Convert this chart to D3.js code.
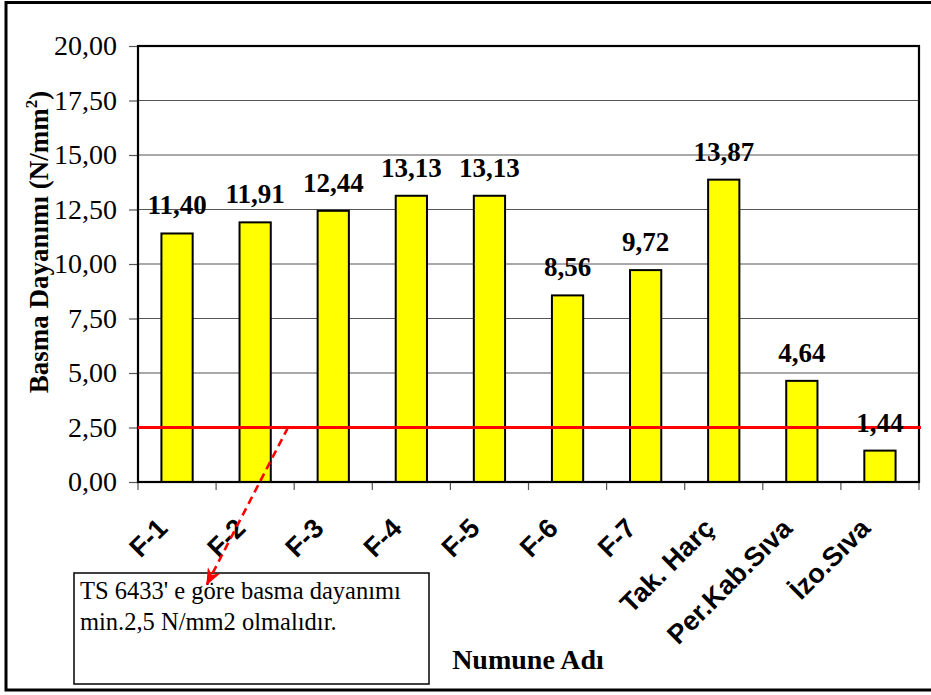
<!DOCTYPE html>
<html>
<head>
<meta charset="utf-8">
<script src="https://cdn.jsdelivr.net/npm/d3@7"></script>
<style>
  html, body { margin: 0; padding: 0; background: #fff; }
  svg { display: block; }
</style>
</head>
<body>
<svg id="chart" width="931" height="695"></svg>
<script>
// Compressive strength of mortar / plaster samples (N/mm²)
const categories = ["F-1", "F-2", "F-3", "F-4", "F-5", "F-6", "F-7", "Tak. Harç", "Per.Kab.Sıva", "İzo.Sıva"];
const values = [11.40, 11.91, 12.44, 13.13, 13.13, 8.56, 9.72, 13.87, 4.64, 1.44];
const yTicks = [0, 2.5, 5, 7.5, 10, 12.5, 15, 17.5, 20];
const limitValue = 2.5;
const noteLines = ["TS 6433' e göre basma dayanımı", "min.2,5 N/mm2 olmalıdır."];

const SERIF = "Liberation Serif";
const SANS = "Liberation Sans";
const margin = { left: 138, top: 46, right: 919, bottom: 482 };

const trLocale = d3.formatLocale({ decimal: ",", thousands: ".", grouping: [3], currency: ["", " TL"] });
const fmt = trLocale.format(".2f");

const svg = d3.select("#chart");

// outer frame (right edge runs off the page)
svg.append("rect")
  .attr("x", 6).attr("y", 2.5).attr("width", 940).attr("height", 687.5)
  .attr("fill", "none").attr("stroke", "#000").attr("stroke-width", 3);

const x = d3.scaleBand().domain(categories).range([margin.left, margin.right]).paddingInner(0.6).paddingOuter(0.3);
const xBand = d3.scaleBand().domain(categories).range([margin.left, margin.right]).padding(0);
const y = d3.scaleLinear().domain([0, 20]).range([margin.bottom, margin.top]);

// horizontal gridlines
svg.append("g").selectAll("line").data(yTicks.filter(d => d > 0)).join("line")
  .attr("x1", margin.left).attr("x2", margin.right)
  .attr("y1", d => y(d)).attr("y2", d => y(d))
  .attr("stroke", "#555").attr("stroke-width", 1.2);

// y axis
const yAxis = d3.axisLeft(y).tickValues(yTicks).tickFormat(fmt).tickSize(9).tickPadding(12);
const gy = svg.append("g").attr("transform", `translate(${margin.left},0)`).call(yAxis);
gy.attr("font-family", SERIF).attr("font-size", 28);
gy.select(".domain").remove();
gy.selectAll(".tick line").attr("stroke", "#555").attr("stroke-width", 1.2);
gy.selectAll(".tick text").attr("fill", "#000");

// x axis ticks at band boundaries
const gx = svg.append("g").attr("transform", `translate(0,${margin.bottom})`);
gx.selectAll("line").data(categories.map(c => xBand(c)).concat([margin.right])).join("line")
  .attr("x1", d => d).attr("x2", d => d).attr("y1", 0).attr("y2", 8)
  .attr("stroke", "#555").attr("stroke-width", 1.2);

// category labels, rotated
svg.append("g").selectAll("text").data(categories).join("text")
  .attr("transform", d => `translate(${xBand(d) + xBand.bandwidth() / 2 - 8},${margin.bottom + 48}) rotate(-45)`)
  .attr("text-anchor", "end")
  .attr("font-family", SANS)
  .attr("font-weight", "bold").attr("font-size", 27)
  .text(d => d);

// bars
svg.append("g").selectAll("rect").data(values).join("rect")
  .attr("x", (d, i) => x(categories[i]))
  .attr("y", d => y(d))
  .attr("width", x.bandwidth())
  .attr("height", d => y(0) - y(d))
  .attr("fill", "#ffff00").attr("stroke", "#000").attr("stroke-width", 2);

// plot area border
svg.append("rect")
  .attr("x", margin.left).attr("y", margin.top)
  .attr("width", margin.right - margin.left).attr("height", margin.bottom - margin.top)
  .attr("fill", "none").attr("stroke", "#000").attr("stroke-width", 2.2);

// minimum requirement line
svg.append("line")
  .attr("x1", margin.left).attr("x2", margin.right + 2)
  .attr("y1", y(limitValue)).attr("y2", y(limitValue))
  .attr("stroke", "#ff0000").attr("stroke-width", 3);

// value labels
svg.append("g").selectAll("text").data(values).join("text")
  .attr("x", (d, i) => x(categories[i]) + x.bandwidth() / 2)
  .attr("y", d => y(d) - 19)
  .attr("text-anchor", "middle")
  .attr("font-family", SERIF)
  .attr("font-weight", "bold").attr("font-size", 27)
  .text(d => fmt(d));

// y axis title
const yt = svg.append("text")
  .attr("transform", `translate(48,${(margin.top + margin.bottom) / 2 - 22}) rotate(-90)`)
  .attr("text-anchor", "middle")
  .attr("font-family", SERIF)
  .attr("font-weight", "bold").attr("font-size", 27);
yt.append("tspan").text("Basma Dayanımı (N/mm");
yt.append("tspan").attr("dy", -11).attr("font-size", 17).text("2");
yt.append("tspan").attr("dy", 11).text(")");

// x axis title
svg.append("text")
  .attr("x", 528).attr("y", 669)
  .attr("text-anchor", "middle")
  .attr("font-family", SERIF)
  .attr("font-weight", "bold").attr("font-size", 28)
  .text("Numune Adı");

// note box
svg.append("rect")
  .attr("x", 74).attr("y", 573).attr("width", 355).attr("height", 111)
  .attr("fill", "#fff").attr("stroke", "#000").attr("stroke-width", 1.5);
svg.append("g").selectAll("text").data(noteLines).join("text")
  .attr("x", 80).attr("y", (d, i) => 599 + i * 31)
  .attr("font-family", SERIF)
  .attr("font-size", 24.5)
  .text(d => d);

// dashed leader arrow from the limit line to the note
const ax1 = 288, ay1 = y(limitValue), ax2 = 207, ay2 = 584;
svg.append("defs").append("marker")
  .attr("id", "arrowHead")
  .attr("viewBox", "0 0 12 10").attr("refX", 11).attr("refY", 5)
  .attr("markerWidth", 17).attr("markerHeight", 14).attr("markerUnits", "userSpaceOnUse")
  .attr("orient", "auto")
  .append("path").attr("d", "M0,0 L12,5 L0,10 L3.5,5 Z").attr("fill", "#ff0000");
svg.append("line")
  .attr("x1", ax1).attr("y1", ay1).attr("x2", ax2).attr("y2", ay2)
  .attr("stroke", "#ff0000").attr("stroke-width", 2.6)
  .attr("stroke-dasharray", "8,5")
  .attr("marker-end", "url(#arrowHead)");
</script>
</body>
</html>
